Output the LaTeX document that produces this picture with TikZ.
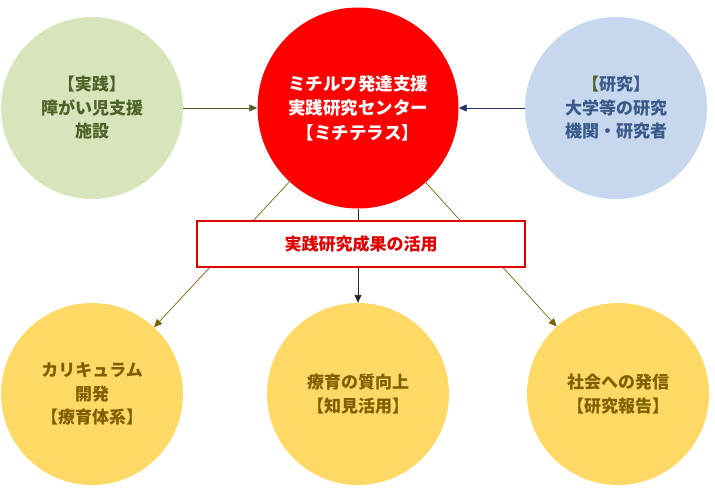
\documentclass[tikz,border=0pt]{standalone}
\usepackage{fontspec}
\setmainfont{Noto Sans CJK JP}
\usepackage{xcolor}
\definecolor{sage}{HTML}{D8E4BC}
\definecolor{sagetext}{HTML}{4F6228}
\definecolor{hubred}{HTML}{FF0000}
\definecolor{boxred}{HTML}{E00000}
\definecolor{sky}{HTML}{C6D7EE}
\definecolor{skytext}{HTML}{3A5A8A}
\definecolor{navy}{HTML}{1F3864}
\definecolor{honey}{HTML}{FFD966}
\definecolor{honeytext}{HTML}{7F6000}
\usepackage{tikz}
\usetikzlibrary{arrows.meta,positioning,calc}

\tikzset{
  bubble/.style={circle, inner sep=0pt, minimum size=182pt, align=center,
    font=\bfseries\fontsize{17}{23.5}\selectfont},
  tip/.style={-{Triangle[length=8pt,width=7pt]}, line width=0.9pt}
}

\begin{document}
\begin{tikzpicture}[x=1pt,y=-1pt]
        \useasboundingbox (0,0) rectangle (715,501);
        % Hub
        \node[bubble, minimum size=201pt, fill=hubred, text=white,
          font=\bfseries\fontsize{17.5}{24.5}\selectfont] (hub) at (358,108)
          {ミチルワ発達支援\\実践研究センター\\【ミチテラス】};
        % Sources
        \node[bubble, fill=sage, text=sagetext] (prac) at (92,108)
          {【実践】\\障がい児支援\\施設};
        \node[bubble, fill=sky, text=skytext] (res) at (616,108)
          {\textcolor{sagetext}{【}研究】\\大学等の研究\\機関・研究者};
        % Outcomes
        \node[bubble, fill=honey, text=honeytext] (curr) at (92,394)
          {カリキュラム\\開発\\【療育体系】};
        \node[bubble, fill=honey, text=honeytext] (qual) at (358,394)
          {療育の質向上\\【知見活用】};
        \node[bubble, fill=honey, text=honeytext] (soc) at (618,394)
          {社会への発信\\【研究報告】};
        % Inputs
        \draw[tip, sagetext] (prac) -- (hub);
        \draw[tip, navy] (res) -- (hub);
        % Diagonals (box is laid over them)
        \foreach \dst in {curr,soc} {
          \draw[tip, honeytext, line width=0.7pt] (hub) -- (\dst);
        }
        % Use of results
        \node[draw=boxred, line width=1.6pt, fill=white, text=boxred, minimum width=328pt,
          minimum height=46pt, font=\bfseries\fontsize{17}{20}\selectfont] (use) at (361,244)
          {実践研究成果の活用};
        \draw[black!85, line width=0.9pt] (hub) -- (hub |- use.north);
        \draw[tip, black!85] (use.south -| qual) -- (qual);
      \end{tikzpicture}
\end{document}
